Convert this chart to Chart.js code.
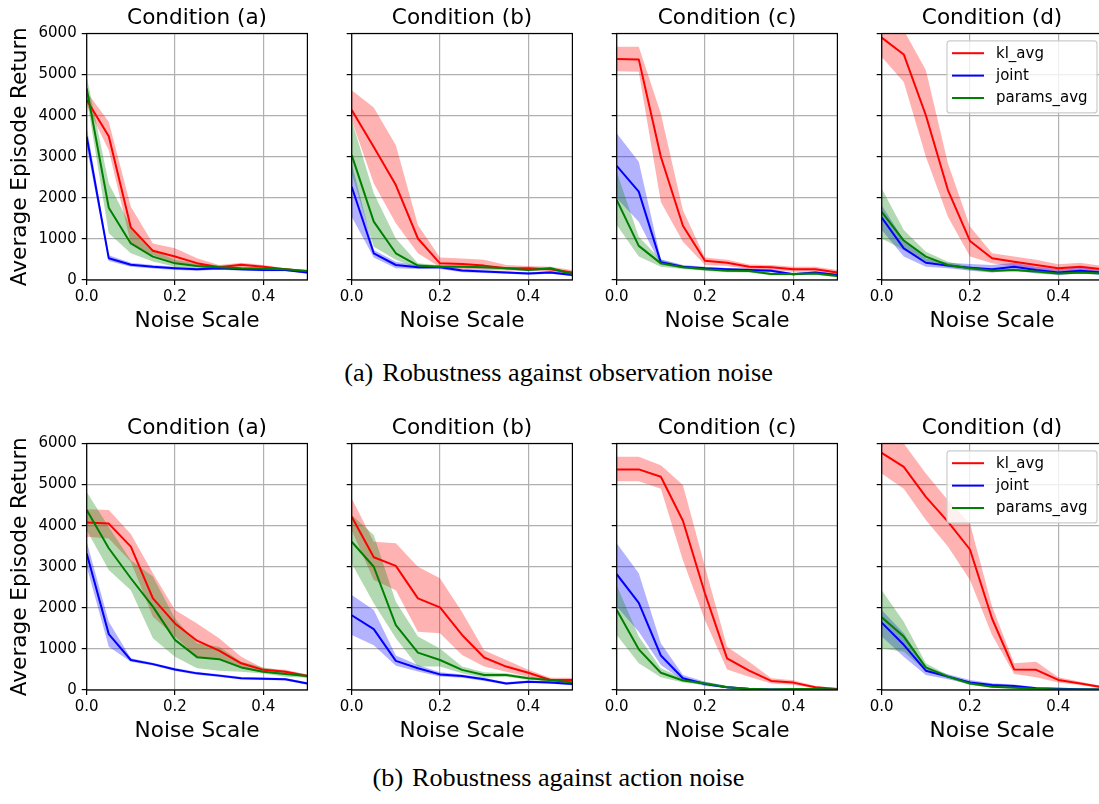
<!DOCTYPE html>
<html>
<head>
<meta charset="utf-8">
<script src="https://cdn.jsdelivr.net/npm/chart.js@4.4.1/dist/chart.umd.min.js"></script>
<style>
  html, body { margin: 0; padding: 0; background: #fff; }
  body { width: 1099px; height: 804px; overflow: hidden; position: relative; }
  canvas { position: absolute; }
  .cap { position: absolute; width: 600px; text-align: center; font-family: 'Liberation Serif', 'Times New Roman', serif;
         font-size: 26.2px; line-height: 26px; color: #000; white-space: nowrap; }
  .cap .lab { margin-right: 0.34em; }
</style>
</head>
<body>
<div class="cap" id="cap0" style="left:258.5px; top:359.5px;"></div>
<div class="cap" id="cap1" style="left:258.5px; top:765px;"></div>
<script>
// ---------------- data ----------------
const noiseScale = [0, 0.05, 0.1, 0.15, 0.2, 0.25, 0.3, 0.35, 0.4, 0.45, 0.5];
const methods = ['kl_avg', 'joint', 'params_avg'];
const conditions = ['Condition (a)', 'Condition (b)', 'Condition (c)', 'Condition (d)'];
const captionLabels = ['(a)', '(b)'];
const captionTexts = ['Robustness against observation noise', 'Robustness against action noise'];
const xTicks = [0, 0.2, 0.4];
const yTicks = [0, 1000, 2000, 3000, 4000, 5000, 6000];
const xTitle = 'Noise Scale';
const yTitle = 'Average Episode Return';

// observation noise, condition (a)
const obsA_kl     = [4380, 3500, 1280, 710, 570, 410, 310, 370, 320, 260, 200];
const obsA_kl_lo  = [4260, 3160, 890, 610, 400, 320, 245, 310, 285, 230, 160];
const obsA_kl_hi  = [4580, 3850, 1780, 890, 770, 530, 365, 420, 365, 285, 245];
const obsA_jt     = [3490, 530, 370, 320, 285, 260, 285, 260, 245, 245, 185];
const obsA_jt_lo  = [3240, 460, 320, 280, 245, 225, 250, 225, 210, 215, 150];
const obsA_jt_hi  = [3730, 600, 420, 365, 325, 295, 320, 295, 280, 275, 220];
const obsA_pa     = [4660, 1760, 890, 570, 405, 340, 310, 285, 275, 260, 220];
const obsA_pa_lo  = [4420, 1140, 650, 450, 325, 280, 260, 250, 245, 235, 195];
const obsA_pa_hi  = [4950, 2350, 1300, 730, 490, 400, 360, 320, 305, 285, 245];
// observation noise, condition (b)
const obsB_kl     = [4140, 3240, 2310, 1010, 405, 390, 350, 285, 285, 260, 180];
const obsB_kl_lo  = [3890, 2350, 1380, 650, 310, 260, 245, 230, 230, 200, 120];
const obsB_kl_hi  = [4620, 4200, 3280, 1340, 550, 525, 490, 365, 340, 325, 245];
const obsB_jt     = [2270, 650, 365, 310, 310, 230, 205, 180, 160, 185, 120];
const obsB_jt_lo  = [1540, 550, 285, 270, 270, 190, 170, 150, 130, 150, 90];
const obsB_jt_hi  = [2840, 730, 445, 350, 350, 270, 240, 210, 190, 220, 155];
const obsB_pa     = [3040, 1420, 650, 350, 325, 325, 310, 285, 245, 285, 145];
const obsB_pa_lo  = [2600, 810, 490, 285, 290, 290, 275, 255, 215, 250, 115];
const obsB_pa_hi  = [3890, 2110, 1010, 410, 360, 360, 345, 315, 275, 320, 180];
// observation noise, condition (c)
const obsC_kl     = [5380, 5370, 3000, 1320, 470, 420, 325, 310, 260, 260, 185];
const obsC_kl_lo  = [5080, 5070, 1900, 930, 365, 340, 260, 245, 200, 200, 120];
const obsC_kl_hi  = [5680, 5680, 4050, 1700, 545, 490, 380, 365, 325, 325, 245];
const obsC_jt     = [2780, 2150, 430, 325, 285, 260, 245, 225, 140, 180, 120];
const obsC_jt_lo  = [1990, 1420, 365, 285, 250, 225, 210, 190, 110, 150, 90];
const obsC_jt_hi  = [3570, 2880, 505, 365, 320, 295, 280, 260, 170, 210, 155];
const obsC_pa     = [1950, 830, 405, 310, 260, 225, 220, 145, 145, 160, 95];
const obsC_pa_lo  = [1340, 570, 320, 270, 225, 190, 185, 115, 115, 130, 65];
const obsC_pa_hi  = [2635, 1050, 490, 350, 295, 260, 255, 175, 175, 190, 125];
// observation noise, condition (d)
const obsD_kl     = [5900, 5490, 4010, 2190, 950, 530, 445, 365, 285, 325, 260];
const obsD_kl_lo  = [5430, 4820, 3000, 1540, 570, 405, 325, 260, 180, 230, 160];
const obsD_kl_hi  = [6350, 6080, 5110, 2840, 1300, 650, 570, 490, 385, 420, 340];
const obsD_jt     = [1520, 770, 420, 350, 300, 260, 325, 245, 180, 225, 180];
const obsD_jt_lo  = [1220, 570, 325, 285, 225, 180, 230, 160, 120, 160, 120];
const obsD_jt_hi  = [1820, 975, 525, 420, 390, 365, 420, 325, 260, 310, 260];
const obsD_pa     = [1660, 960, 570, 365, 285, 225, 245, 205, 160, 180, 160];
const obsD_pa_lo  = [1010, 730, 445, 310, 245, 190, 210, 175, 130, 150, 130];
const obsD_pa_hi  = [2230, 1220, 690, 445, 330, 260, 280, 235, 190, 210, 190];
// action noise, condition (a)
const actA_kl     = [4080, 4050, 3490, 2230, 1620, 1200, 960, 650, 490, 445, 340];
const actA_kl_lo  = [3730, 3690, 3120, 1780, 1300, 810, 730, 530, 420, 395, 300];
const actA_kl_hi  = [4400, 4380, 3800, 2840, 1950, 1620, 1260, 810, 530, 490, 380];
const actA_jt     = [3320, 1360, 730, 630, 500, 405, 350, 285, 275, 260, 160];
const actA_jt_lo  = [3000, 1050, 690, 595, 465, 370, 315, 255, 245, 230, 130];
const actA_jt_hi  = [3610, 1660, 770, 665, 535, 440, 385, 315, 305, 290, 190];
const actA_pa     = [4380, 3450, 2720, 2030, 1220, 800, 750, 550, 445, 390, 340];
const actA_pa_lo  = [3890, 2920, 2430, 1260, 810, 530, 470, 445, 400, 325, 300];
const actA_pa_hi  = [4820, 3970, 3160, 2760, 1740, 1140, 1050, 690, 550, 470, 380];
// action noise, condition (b)
const actB_kl     = [4220, 3230, 3020, 2230, 2010, 1340, 790, 570, 420, 245, 245];
const actB_kl_lo  = [3890, 2680, 2430, 1420, 1380, 850, 570, 445, 325, 160, 180];
const actB_kl_hi  = [4660, 3610, 3570, 3000, 2720, 1900, 970, 730, 490, 300, 300];
const actB_jt     = [1820, 1480, 710, 530, 380, 340, 260, 160, 200, 185, 145];
const actB_jt_lo  = [1340, 1090, 590, 450, 330, 300, 220, 130, 170, 155, 115];
const actB_jt_hi  = [2310, 1950, 840, 610, 430, 380, 300, 190, 230, 215, 175];
const actB_pa     = [3610, 3000, 1580, 910, 730, 490, 365, 365, 285, 245, 180];
const actB_pa_lo  = [3080, 2110, 1260, 570, 570, 405, 300, 320, 250, 210, 150];
const actB_pa_hi  = [4260, 3770, 2150, 1300, 1010, 570, 430, 410, 320, 280, 210];
// action noise, condition (c)
const actC_kl     = [5370, 5370, 5190, 4120, 2350, 770, 470, 220, 180, 65, 25];
const actC_kl_lo  = [5080, 5080, 4900, 3160, 1700, 500, 320, 160, 130, 35, 0];
const actC_kl_hi  = [5680, 5680, 5470, 4990, 3000, 1050, 690, 285, 235, 95, 50];
const actC_jt     = [2820, 2120, 840, 285, 145, 65, 25, 15, 10, 10, 8];
const actC_jt_lo  = [2030, 1420, 610, 230, 100, 40, 10, 5, 0, 0, 0];
const actC_jt_hi  = [3570, 2840, 1140, 365, 200, 95, 45, 30, 25, 20, 20];
const actC_pa     = [1950, 990, 420, 230, 160, 65, 30, 15, 25, 25, 15];
const actC_pa_lo  = [1340, 650, 310, 180, 120, 40, 15, 5, 10, 10, 5];
const actC_pa_hi  = [2550, 1300, 530, 285, 200, 95, 50, 30, 40, 40, 30];
// action noise, condition (d)
const actD_kl     = [5770, 5430, 4700, 4100, 3420, 1740, 500, 490, 245, 160, 65];
const actD_kl_lo  = [5270, 4900, 4140, 3490, 2680, 1340, 390, 310, 180, 120, 35];
const actD_kl_hi  = [6240, 6000, 5270, 4620, 4050, 2030, 650, 690, 310, 200, 100];
const actD_jt     = [1640, 1100, 470, 325, 185, 120, 95, 40, 30, 20, 15];
const actD_jt_lo  = [1300, 810, 365, 260, 140, 80, 60, 15, 5, 5, 0];
const actD_jt_hi  = [1950, 1380, 550, 385, 245, 165, 135, 70, 55, 40, 30];
const actD_pa     = [1770, 1300, 550, 325, 160, 80, 55, 30, 15, 15, 15];
const actD_pa_lo  = [1010, 930, 470, 285, 120, 55, 35, 15, 5, 5, 5];
const actD_pa_hi  = [2430, 1660, 650, 365, 200, 110, 80, 45, 30, 30, 30];

// ---------------- panel assembly ----------------
const panelData = [
  [[obsA_kl, obsA_kl_lo, obsA_kl_hi], [obsA_jt, obsA_jt_lo, obsA_jt_hi], [obsA_pa, obsA_pa_lo, obsA_pa_hi]],
  [[obsB_kl, obsB_kl_lo, obsB_kl_hi], [obsB_jt, obsB_jt_lo, obsB_jt_hi], [obsB_pa, obsB_pa_lo, obsB_pa_hi]],
  [[obsC_kl, obsC_kl_lo, obsC_kl_hi], [obsC_jt, obsC_jt_lo, obsC_jt_hi], [obsC_pa, obsC_pa_lo, obsC_pa_hi]],
  [[obsD_kl, obsD_kl_lo, obsD_kl_hi], [obsD_jt, obsD_jt_lo, obsD_jt_hi], [obsD_pa, obsD_pa_lo, obsD_pa_hi]],
  [[actA_kl, actA_kl_lo, actA_kl_hi], [actA_jt, actA_jt_lo, actA_jt_hi], [actA_pa, actA_pa_lo, actA_pa_hi]],
  [[actB_kl, actB_kl_lo, actB_kl_hi], [actB_jt, actB_jt_lo, actB_jt_hi], [actB_pa, actB_pa_lo, actB_pa_hi]],
  [[actC_kl, actC_kl_lo, actC_kl_hi], [actC_jt, actC_jt_lo, actC_jt_hi], [actC_pa, actC_pa_lo, actC_pa_hi]],
  [[actD_kl, actD_kl_lo, actD_kl_hi], [actD_jt, actD_jt_lo, actD_jt_hi], [actD_pa, actD_pa_lo, actD_pa_hi]]
];

const lineColors = ['#ff0000', '#0000ff', '#008000'];
const bandColors = ['rgba(255,0,0,0.3)', 'rgba(0,0,255,0.3)', 'rgba(0,128,0,0.3)'];

// captions
[0, 1].forEach(i => {
  const el = document.getElementById('cap' + i);
  const lab = document.createElement('span');
  lab.className = 'lab';
  lab.textContent = captionLabels[i];
  el.appendChild(lab);
  el.appendChild(document.createTextNode(captionTexts[i]));
});

const FONT = "'DejaVu Sans', 'Liberation Sans', sans-serif";
const PLOT_W = 220.7;
const colLeft = [0, 331, 596, 861];
const colYW = [86.7, 20.7, 20.7, 20.7];
const colCanvasW = [313, 247, 247, 247];
const rowTop = [0, 410];
const CANVAS_H = 340;

const framePlugin = {
  id: 'mplFrame',
  afterDatasetsDraw(chart) {
    const {ctx, chartArea: a} = chart;
    ctx.save();
    ctx.strokeStyle = '#000';
    ctx.lineWidth = 1.2;
    ctx.strokeRect(a.left, a.top, a.right - a.left, a.bottom - a.top);
    ctx.restore();
  }
};

const legendPlugin = {
  id: 'mplLegend',
  afterDraw(chart) {
    if (!chart.$showLegend) return;
    const {ctx, chartArea: a} = chart;
    const items = chart.data.datasets.filter(d => d.label);
    const w = 150, h = 72;
    const x = a.right - 5.4 - w, y = a.top + 7.4;
    ctx.save();
    ctx.beginPath();
    if (ctx.roundRect) ctx.roundRect(x, y, w, h, 3); else ctx.rect(x, y, w, h);
    ctx.fillStyle = 'rgba(255,255,255,0.8)';
    ctx.fill();
    ctx.strokeStyle = '#cccccc';
    ctx.lineWidth = 1.2;
    ctx.stroke();
    ctx.font = '15px ' + FONT;
    ctx.textBaseline = 'middle';
    ctx.textAlign = 'left';
    items.forEach((d, i) => {
      const cy = y + 12.3 + i * 22.4;
      ctx.beginPath();
      ctx.moveTo(x + 5, cy);
      ctx.lineTo(x + 37, cy);
      ctx.strokeStyle = d.borderColor;
      ctx.lineWidth = 2;
      ctx.stroke();
      ctx.fillStyle = '#000';
      ctx.fillText(d.label, x + 49, cy + 0.5);
    });
    ctx.restore();
  }
};

function buildDatasets(series) {
  const ds = [];
  series.forEach((s, m) => {
    const [mean, lo, hi] = s;
    const loIdx = ds.length;
    ds.push({
      data: noiseScale.map((x, i) => ({x, y: lo[i]})),
      borderWidth: 0, borderColor: 'rgba(0,0,0,0)', pointRadius: 0, fill: false,
      order: 10 - m
    });
    ds.push({
      data: noiseScale.map((x, i) => ({x, y: hi[i]})),
      borderWidth: 0, borderColor: 'rgba(0,0,0,0)', pointRadius: 0,
      fill: loIdx, backgroundColor: bandColors[m],
      order: 10 - m
    });
    ds.push({
      label: methods[m],
      data: noiseScale.map((x, i) => ({x, y: mean[i]})),
      borderColor: lineColors[m], backgroundColor: lineColors[m],
      borderWidth: 2, pointRadius: 0, fill: false, tension: 0,
      borderJoinStyle: 'round',
      order: 5 - m
    });
  });
  return ds;
}

panelData.forEach((series, p) => {
  const row = Math.floor(p / 4), col = p % 4;
  const canvas = document.createElement('canvas');
  const cw = colCanvasW[col];
  canvas.width = cw; canvas.height = CANVAS_H;
  canvas.style.left = colLeft[col] + 'px';
  canvas.style.top = rowTop[row] + 'px';
  canvas.style.width = cw + 'px';
  canvas.style.height = CANVAS_H + 'px';
  document.body.appendChild(canvas);
  const yW = colYW[col];
  const padR = cw - yW - PLOT_W;

  const chart = new Chart(canvas.getContext('2d'), {
    type: 'line',
    data: { datasets: buildDatasets(series) },
    options: {
      responsive: false,
      animation: false,
      devicePixelRatio: 1,
      events: [],
      layout: { padding: { left: 0, right: padR, top: 0, bottom: 0 } },
      plugins: {
        legend: { display: false },
        tooltip: { enabled: false },
        filler: { drawTime: 'beforeDatasetsDraw' },
        title: {
          display: true, text: conditions[col], fullSize: false,
          color: '#000', font: { family: FONT, size: 21.6, weight: 'normal', lineHeight: 1.2 },
          padding: { top: 5.5, bottom: 2.08 }
        }
      },
      scales: {
        x: {
          type: 'linear', min: 0, max: 0.5,
          afterBuildTicks: s => { s.ticks = xTicks.map(v => ({value: v})); },
          afterFit: s => { s.height = 60; },
          ticks: {
            color: '#000', font: { family: FONT, size: 15 }, padding: 3,
            maxRotation: 0, autoSkip: false, callback: v => Number(v).toFixed(1)
          },
          grid: { color: '#b0b0b0', lineWidth: 1.2, drawTicks: true, tickLength: 5, tickColor: '#000', tickWidth: 1.2 },
          border: { display: false },
          title: {
            display: true, text: xTitle, color: '#000',
            font: { family: FONT, size: 21.6, lineHeight: 1.2 },
            padding: { top: 0, bottom: 5.5 }
          }
        },
        y: {
          type: 'linear', min: 0, max: 6000,
          afterBuildTicks: s => { s.ticks = yTicks.map(v => ({value: v})); },
          afterFit: s => { s.width = yW; },
          ticks: {
            display: col === 0, color: '#000', font: { family: FONT, size: 15 }, padding: 5,
            callback: v => String(v)
          },
          grid: { color: '#b0b0b0', lineWidth: 1.2, drawTicks: true, tickLength: 5, tickColor: '#000', tickWidth: 1.2 },
          border: { display: false },
          title: {
            display: col === 0, text: yTitle, color: '#000',
            font: { family: FONT, size: 21.6, lineHeight: 1.2 },
            padding: { top: 7, bottom: 0 }
          }
        }
      }
    },
    plugins: [framePlugin, legendPlugin]
  });
  chart.$showLegend = (col === 3);
  if (col === 3) chart.draw();
});
</script>
</body>
</html>
